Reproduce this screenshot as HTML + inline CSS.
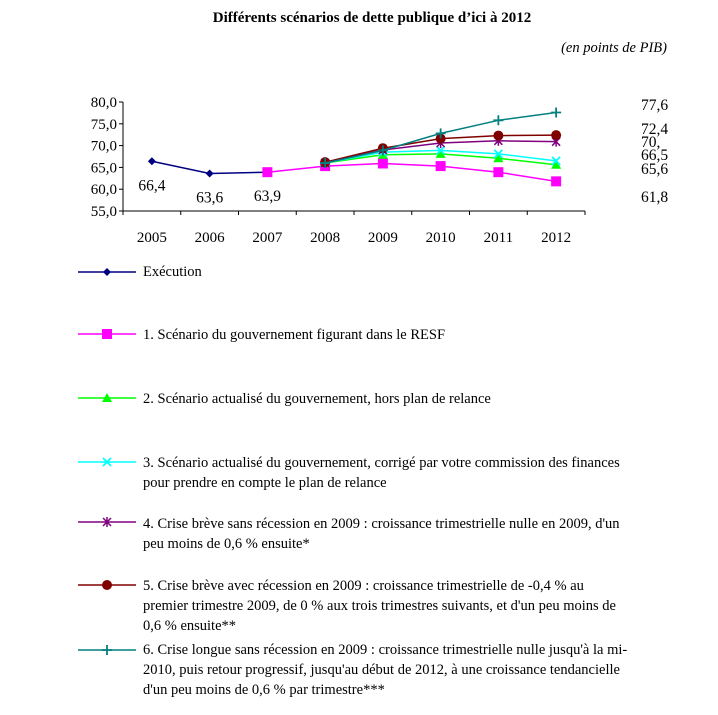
<!DOCTYPE html>
<html><head><meta charset="utf-8"><style>
body{margin:0;background:#fff;width:718px;height:715px;overflow:hidden;font-family:"Liberation Serif",serif;}
svg text{font-family:"Liberation Serif",serif;}
.lg{position:absolute;left:143px;font-size:14.5px;line-height:20px;color:#000;}
</style></head><body>
<svg id="c" width="718" height="715" style="position:absolute;left:0;top:0">
<text x="372" y="22" text-anchor="middle" font-size="15" font-weight="bold">Différents scénarios de dette publique d’ici à 2012</text>
<text x="667" y="52" text-anchor="end" font-size="14.5" font-style="italic">(en points de PIB)</text>
<g id="plot"></g>
</svg>
<div class="lg" style="top:262px">Exécution</div>
<div class="lg" style="top:325px">1. Scénario du gouvernement figurant dans le RESF</div>
<div class="lg" style="top:389px">2. Scénario actualisé du gouvernement, hors plan de relance</div>
<div class="lg" style="top:453px">3. Scénario actualisé du gouvernement, corrigé par votre commission des finances<br>pour prendre en compte le plan de relance</div>
<div class="lg" style="top:514px">4. Crise brève sans récession en 2009 : croissance trimestrielle nulle en 2009, d'un<br>peu moins de 0,6 % ensuite*</div>
<div class="lg" style="top:576px">5. Crise brève avec récession en 2009 : croissance trimestrielle de -0,4 % au<br>premier trimestre 2009, de 0 % aux trois trimestres suivants, et d'un peu moins de<br>0,6 % ensuite**</div>
<div class="lg" style="top:640px">6. Crise longue sans récession en 2009 : croissance trimestrielle nulle jusqu'à la mi-<br>2010, puis retour progressif, jusqu'au début de 2012, à une croissance tendancielle<br>d'un peu moins de 0,6 % par trimestre***</div>
<script>
const years=["2005","2006","2007","2008","2009","2010","2011","2012"];
const yTicks=[55,60,65,70,75,80];
const execution=[66.4,63.6,63.9,null,null,null,null,null];
const s1=[null,null,63.9,65.3,65.9,65.3,63.9,61.8];
const s2=[null,null,null,66.0,67.9,68.1,67.1,65.6];
const s3=[null,null,null,66.0,68.5,68.9,68.1,66.5];
const s4=[null,null,null,66.0,69.0,70.6,71.1,70.9];
const s5=[null,null,null,66.2,69.4,71.6,72.3,72.4];
const s6=[null,null,null,66.0,68.9,72.8,75.8,77.6];
const execLabels=["66,4","63,6","63,9"];
const endLabels=["77,6","72,4","70,","66,5","65,6","61,8"];
const NS="http://www.w3.org/2000/svg";
const g=document.getElementById('plot');
const L=123,R=585,T=102,B=211;
const xs=i=>L+(R-L)/8*(i+0.5);
const ys=v=>B-(v-55)/25*(B-T);
function el(t,a,p){const e=document.createElementNS(NS,t);for(const k in a)e.setAttribute(k,a[k]);(p||g).appendChild(e);return e;}
let e=el('line',{x1:L,y1:T,x2:L,y2:B,stroke:'#000'});

e=el('line',{x1:L,y1:B,x2:R,y2:B,stroke:'#000'});

yTicks.forEach(v=>{el('line',{x1:L-4,y1:ys(v),x2:L,y2:ys(v),stroke:'#000'});
 const t=el('text',{x:L-6,y:ys(v)+5,'text-anchor':'end','font-size':15});t.textContent=v.toFixed(1).replace('.',',');
 });
for(let i=0;i<=8;i++)el('line',{x1:L+(R-L)/8*i,y1:B,x2:L+(R-L)/8*i,y2:B+4,stroke:'#000'});
years.forEach((y,i)=>{const t=el('text',{x:xs(i),y:242,'text-anchor':'middle','font-size':15});t.textContent=y;
 });
function marker(type,x,y,c,p){
 if(type==='diamond')el('polygon',{points:`${x},${y-4} ${x+4},${y} ${x},${y+4} ${x-4},${y}`,fill:c},p);
 else if(type==='square')el('rect',{x:x-5,y:y-5,width:10,height:10,fill:c},p);
 else if(type==='tri')el('polygon',{points:`${x},${y-5} ${x+5},${y+4} ${x-5},${y+4}`,fill:c},p);
 else if(type==='x')el('path',{d:`M${x-4} ${y-4}L${x+4} ${y+4}M${x-4} ${y+4}L${x+4} ${y-4}`,stroke:c,'stroke-width':1.8},p);
 else if(type==='star')el('path',{d:`M${x-4} ${y-4}L${x+4} ${y+4}M${x-4} ${y+4}L${x+4} ${y-4}M${x} ${y-5}L${x} ${y+5}`,stroke:c,'stroke-width':1.5},p);
 else if(type==='circle')el('circle',{cx:x,cy:y,r:5,fill:c},p);
 else if(type==='plus')el('path',{d:`M${x-5} ${y}L${x+5} ${y}M${x} ${y-5}L${x} ${y+5}`,stroke:c,'stroke-width':1.8},p);
}
const series=[[execution,'#000080','diamond','series-execution',272],[s1,'#ff00ff','square','series-s1',334],[s2,'#00ff00','tri','series-s2',398],[s3,'#00ffff','x','series-s3',462],[s4,'#800080','star','series-s4',522],[s5,'#800000','circle','series-s5',585],[s6,'#008080','plus','series-s6',650]];
series.forEach(([d,c,m,n,ly])=>{
 const sg=el('g',{});
 
 let pts=[];d.forEach((v,i)=>{if(v!=null)pts.push([xs(i),ys(v)]);});
 el('polyline',{points:pts.map(p=>p.join(',')).join(' '),fill:'none',stroke:c,'stroke-width':1.5},sg);
 pts.forEach(p=>marker(m,p[0],p[1],c,sg));
 const lg=el('g',{});
 
 el('line',{x1:78,y1:ly,x2:136,y2:ly,stroke:c,'stroke-width':1.5},lg);
 marker(m,107,ly,c,lg);
});
execLabels.forEach((s,i)=>{const v=execution[i];const t=el('text',{x:xs(i),y:ys(v)+29,'text-anchor':'middle','font-size':15.5});t.textContent=s;
 });
const endY=[110,134,147,160,174,202];
endLabels.forEach((s,i)=>{const t=el('text',{x:641,y:endY[i],'font-size':15.5});t.textContent=s;
 });
</script>
</body></html>
